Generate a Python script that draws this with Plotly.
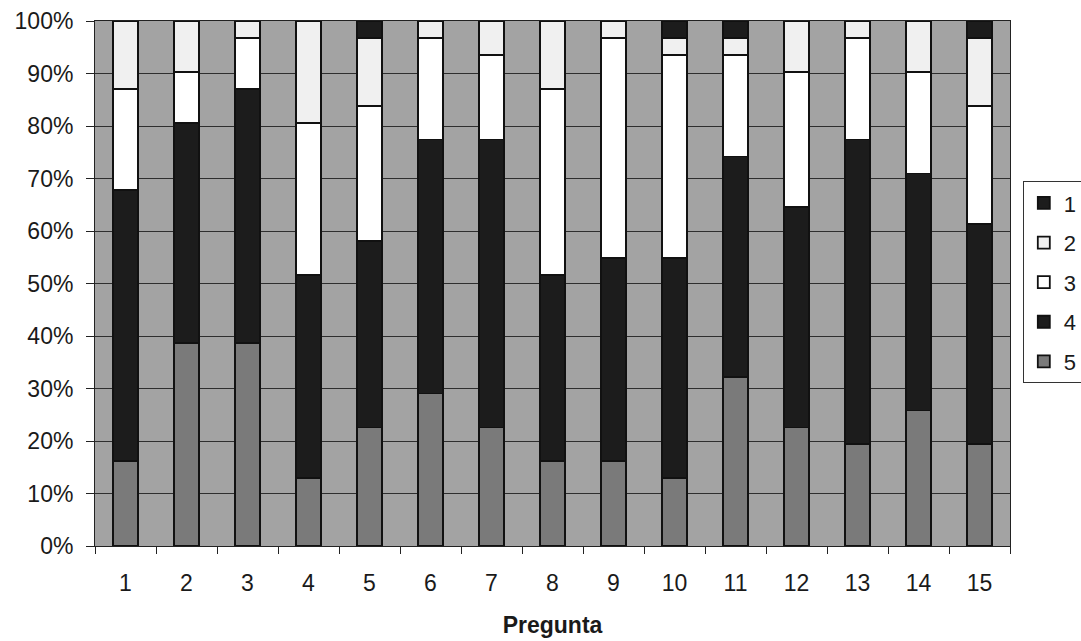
import plotly.graph_objects as go

preguntas = list(range(1, 16))
series_names = ["5", "4", "3", "2", "1"]
s5 = [5, 12, 12, 4, 7, 9, 7, 5, 5, 4, 10, 7, 6, 8, 6]
s4 = [16, 13, 15, 12, 11, 15, 17, 11, 12, 13, 13, 13, 18, 14, 13]
s3 = [6, 3, 3, 9, 8, 6, 5, 11, 13, 12, 6, 8, 6, 6, 7]
s2 = [4, 3, 1, 6, 4, 1, 2, 4, 1, 1, 1, 3, 1, 3, 4]
s1 = [0, 0, 0, 0, 1, 0, 0, 0, 0, 1, 1, 0, 0, 0, 1]
y_ticks = [0, 10, 20, 30, 40, 50, 60, 70, 80, 90, 100]

values = [s5, s4, s3, s2, s1]
colors = ["#7a7a7a", "#1c1c1c", "#ffffff", "#f0f0f0", "#1c1c1c"]

FONT = "Arial, Liberation Sans, sans-serif"

fig = go.Figure()
for name, vals, col in zip(series_names, values, colors):
    fig.add_trace(go.Bar(
        x=preguntas, y=vals, name=name, legendgroup=name,
        legendrank=int(name),
        width=0.4,
        marker=dict(color=col, line=dict(color="#111111", width=1.8)),
    ))

fig.update_layout(
    width=1081, height=641,
    barmode="stack", barnorm="percent",
    paper_bgcolor="white", plot_bgcolor="#a3a3a3",
    margin=dict(l=95, r=71, t=21, b=95, autoexpand=False),
    font=dict(family=FONT, size=23, color="#1a1a1a"),
    showlegend=True,
    legend=dict(
        x=1.014, xanchor="left", y=0.695, yanchor="top",
        traceorder="grouped", tracegroupgap=8,
        bgcolor="white", bordercolor="#333333", borderwidth=1,
        font=dict(family=FONT, size=22, color="#1a1a1a"),
    ),
    xaxis=dict(
        range=[0.5, 15.5], tickmode="array", tickvals=preguntas,
        ticktext=[str(p) for p in preguntas],
        ticks="", ticklabelstandoff=16,
        showgrid=False, zeroline=False,
        showline=True, linecolor="#222222", linewidth=1, mirror=True,
        minor=dict(tickmode="array", tickvals=[p - 0.5 for p in preguntas] + [15.5],
                   ticks="outside", ticklen=7, tickcolor="#222222", tickwidth=1, showgrid=False),
        title=dict(text="<b>Pregunta</b>", standoff=22,
                   font=dict(family=FONT, size=23, color="#1a1a1a")),
        tickfont=dict(family=FONT, size=23, color="#1a1a1a"),
    ),
    yaxis=dict(
        range=[0, 100], tickmode="array", tickvals=y_ticks,
        ticktext=[f"{v}%" for v in y_ticks],
        ticks="outside", ticklen=8, tickcolor="#222222", tickwidth=1,
        ticklabelstandoff=8,
        showgrid=True, gridcolor="#2e2e2e", gridwidth=1, zeroline=False,
        showline=True, linecolor="#222222", linewidth=1, mirror=True,
        tickfont=dict(family=FONT, size=23, color="#1a1a1a"),
    ),
)

fig.write_html("out.html")
